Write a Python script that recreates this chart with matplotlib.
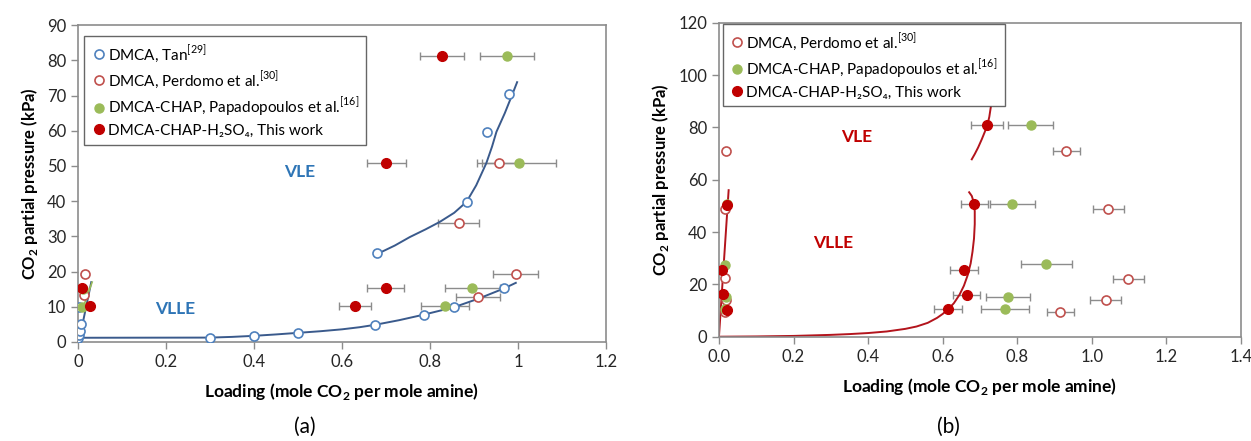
import matplotlib
matplotlib.use('Agg')
from matplotlib import pyplot as plt

plt.rcParams['font.family'] = ['Lato', 'DejaVu Sans']
plt.rcParams['mathtext.fontset'] = 'custom'
plt.rcParams['mathtext.rm'] = 'Lato'
plt.rcParams['mathtext.bf'] = 'Lato:bold'

# ---------------- panel (a) data ----------------
tan_x = [0.0, 0.002, 0.004, 0.006, 0.003, 0.30, 0.40, 0.50, 0.676, 0.787, 0.855, 0.968, 0.68, 0.883, 0.930, 0.980]
tan_y = [1.0, 2.0, 3.2, 5.0, 10.0, 1.25, 1.8, 2.6, 4.9, 7.8, 9.9, 15.2, 25.3, 39.8, 59.7, 70.3]

perd_a_x = [0.957, 0.865, 0.995, 0.909, 0.015, 0.013]
perd_a_y = [50.8, 33.9, 19.2, 12.8, 19.4, 13.3]
perd_a_err = [0.05, 0.046, 0.051, 0.051, 0.004, 0.004]

pap_a_x = [0.975, 1.002, 0.896, 0.834, 0.012, 0.008]
pap_a_y = [81.2, 50.8, 15.2, 10.1, 15.0, 10.0]
pap_a_err = [0.062, 0.084, 0.062, 0.054, 0.0, 0.0]

work_a_x = [0.827, 0.701, 0.699, 0.629, 0.010, 0.027]
work_a_y = [81.2, 50.8, 15.2, 10.1, 15.2, 10.1]
work_a_err = [0.05, 0.045, 0.042, 0.036, 0.0, 0.0]

# fitted curves
vle_a_x = [0.68, 0.72, 0.754, 0.79, 0.822, 0.855, 0.883, 0.905, 0.928, 0.941, 0.951, 0.97, 0.987, 0.998]
vle_a_y = [25.0, 27.4, 29.8, 32.0, 34.1, 36.7, 39.8, 44.5, 50.8, 55.5, 59.7, 65.0, 70.3, 73.8]
vlle_a_x = [0.0, 0.3, 0.35, 0.4, 0.45, 0.5, 0.55, 0.6, 0.64, 0.676, 0.73, 0.787, 0.855, 0.91, 0.968, 0.995]
vlle_a_y = [1.2, 1.25, 1.45, 1.75, 2.15, 2.6, 3.05, 3.6, 4.2, 4.9, 6.2, 7.8, 9.9, 12.3, 15.2, 16.8]
left_a_x = [0.0, 0.005, 0.015, 0.025, 0.03]
left_a_y = [0.0, 2.0, 8.0, 14.0, 17.0]
left_a_gx = [0.012, 0.022, 0.032]
left_a_gy = [10.0, 13.5, 17.0]

# ---------------- panel (b) data ----------------
perd_b_x = [0.932, 1.044, 1.098, 1.037, 0.915, 0.020, 0.017, 0.017, 0.018, 0.016]
perd_b_y = [71.0, 48.7, 21.9, 14.0, 9.6, 70.8, 48.7, 22.3, 14.0, 9.6]
perd_b_err = [0.037, 0.041, 0.041, 0.041, 0.036, 0.004, 0.004, 0.004, 0.004, 0.004]

pap_b_x = [0.836, 0.787, 0.878, 0.776, 0.767, 0.022, 0.017, 0.020, 0.017]
pap_b_y = [81.0, 50.6, 27.7, 15.3, 10.5, 50.6, 27.4, 15.3, 10.5]
pap_b_err = [0.060, 0.061, 0.068, 0.059, 0.065, 0.0, 0.0, 0.0, 0.0]

work_b_x = [0.720, 0.685, 0.658, 0.665, 0.615, 0.022, 0.008, 0.011, 0.022]
work_b_y = [81.0, 50.6, 25.5, 16.1, 10.5, 50.4, 25.5, 16.3, 10.2]
work_b_err = [0.043, 0.037, 0.038, 0.036, 0.038, 0.0, 0.0, 0.0, 0.0]

vle_b_x = [0.678, 0.686, 0.695, 0.705, 0.713, 0.720, 0.725, 0.729]
vle_b_y = [67.8, 69.8, 72.3, 75.5, 78.3, 81.0, 84.0, 87.7]
vlle_b_x = [0.0, 0.1, 0.2, 0.3, 0.35, 0.4, 0.45, 0.5, 0.53, 0.56, 0.585, 0.6, 0.615, 0.63, 0.645, 0.657,
            0.667, 0.675, 0.68, 0.684, 0.686, 0.686, 0.683, 0.678, 0.671]
vlle_b_y = [0.0, 0.1, 0.3, 0.7, 1.0, 1.4, 2.0, 3.0, 3.9, 5.3, 7.2, 8.7, 10.5, 12.8, 16.0, 19.5,
            23.5, 28.0, 32.5, 37.5, 43.0, 48.0, 51.5, 53.8, 55.2]
left_b_x = [0.0, 0.026]
left_b_y = [0.0, 56.0]

c_blue = '#4f81bd'
c_pink = '#c0504d'
c_green = '#9bbb59'
c_red = '#c00000'
c_err = '#8c8c8c'
c_bline = '#3a5a8c'
c_rline = '#b3141c'

fig = plt.figure(figsize=(12.51, 4.41), dpi=100)
ax1 = fig.add_axes([0.0624, 0.2245, 0.4220, 0.7185])
ax2 = fig.add_axes([0.5747, 0.2365, 0.4173, 0.7120])

ms = 6.5

def style(ax):
    for s in ax.spines.values():
        s.set_color('#8c8c8c')
        s.set_linewidth(1.2)
    ax.tick_params(direction='out', color='#8c8c8c', length=5, width=1, labelsize=12, labelcolor='#262626')
    ax.set_xlabel('Loading (mole CO$_\\mathbf{2}$ per mole amine)', fontweight='bold', fontsize=12.5, labelpad=8)
    ax.set_ylabel('CO$_\\mathbf{2}$ partial pressure (kPa)', fontweight='bold', fontsize=12, labelpad=5)

# ---- (a)
ax1.plot(vlle_a_x, vlle_a_y, color=c_bline, lw=1.4, zorder=2)
ax1.plot(vle_a_x, vle_a_y, color=c_bline, lw=1.4, zorder=2)
ax1.plot(left_a_x, left_a_y, color=c_bline, lw=1.4, zorder=2)
ax1.plot(left_a_gx, left_a_gy, color=c_green, lw=1.2, zorder=2)
ax1.errorbar(perd_a_x, perd_a_y, xerr=perd_a_err, fmt='none', ecolor=c_err, elinewidth=1, capsize=3, zorder=1)
ax1.errorbar(pap_a_x, pap_a_y, xerr=pap_a_err, fmt='none', ecolor=c_err, elinewidth=1, capsize=3, zorder=1)
ax1.errorbar(work_a_x, work_a_y, xerr=work_a_err, fmt='none', ecolor=c_err, elinewidth=1, capsize=3, zorder=1)
ax1.plot(tan_x, tan_y, 'o', ms=ms, mfc='white', mec=c_blue, mew=1.2, ls='none', zorder=3, label='DMCA, Tan$^{[29]}$')
ax1.plot(perd_a_x, perd_a_y, 'o', ms=ms, mfc='white', mec=c_pink, mew=1.2, ls='none', zorder=3, label='DMCA, Perdomo et al.$^{[30]}$')
ax1.plot(pap_a_x, pap_a_y, 'o', ms=ms, color=c_green, ls='none', zorder=4, label='DMCA-CHAP, Papadopoulos et al.$^{[16]}$')
ax1.plot(work_a_x, work_a_y, 'o', ms=ms + 0.5, color=c_red, ls='none', zorder=5, label='DMCA-CHAP-H₂SO₄, This work')
ax1.set_xlim(0, 1.2)
ax1.set_ylim(0, 90)
ax1.set_xticks([0, 0.2, 0.4, 0.6, 0.8, 1.0, 1.2])
ax1.set_xticklabels(['0', '0.2', '0.4', '0.6', '0.8', '1', '1.2'])
ax1.set_yticks(range(0, 91, 10))
ax1.text(0.504, 48.2, 'VLE', color='#2e75b6', fontweight='bold', fontsize=12.5, ha='center', va='center')
ax1.text(0.22, 9.5, 'VLLE', color='#2e75b6', fontweight='bold', fontsize=12.5, ha='center', va='center')
style(ax1)
leg = ax1.legend(loc='upper left', bbox_to_anchor=(0.012, 0.965), fontsize=11, frameon=True, fancybox=False,
                 handletextpad=0.1, handlelength=1.0, labelspacing=0.35, borderpad=0.45, borderaxespad=0)
leg.get_frame().set_edgecolor('#404040')
leg.get_frame().set_linewidth(1)

# ---- (b)
ax2.plot(vlle_b_x, vlle_b_y, color=c_rline, lw=1.4, zorder=2)
ax2.plot(vle_b_x, vle_b_y, color=c_rline, lw=1.4, zorder=2)
ax2.plot(left_b_x, left_b_y, color=c_rline, lw=1.4, zorder=2)
ax2.errorbar(perd_b_x, perd_b_y, xerr=perd_b_err, fmt='none', ecolor=c_err, elinewidth=1, capsize=3, zorder=1)
ax2.errorbar(pap_b_x, pap_b_y, xerr=pap_b_err, fmt='none', ecolor=c_err, elinewidth=1, capsize=3, zorder=1)
ax2.errorbar(work_b_x, work_b_y, xerr=work_b_err, fmt='none', ecolor=c_err, elinewidth=1, capsize=3, zorder=1)
ax2.plot(perd_b_x, perd_b_y, 'o', ms=ms, mfc='white', mec=c_pink, mew=1.2, ls='none', zorder=3, label='DMCA, Perdomo et al.$^{[30]}$')
ax2.plot(pap_b_x, pap_b_y, 'o', ms=ms, color=c_green, ls='none', zorder=4, label='DMCA-CHAP, Papadopoulos et al.$^{[16]}$')
ax2.plot(work_b_x, work_b_y, 'o', ms=ms + 0.5, color=c_red, ls='none', zorder=5, label='DMCA-CHAP-H₂SO₄, This work')
ax2.set_xlim(0, 1.4)
ax2.set_ylim(0, 120)
ax2.set_xticks([0, 0.2, 0.4, 0.6, 0.8, 1.0, 1.2, 1.4])
ax2.set_xticklabels(['0.0', '0.2', '0.4', '0.6', '0.8', '1.0', '1.2', '1.4'])
ax2.set_yticks(range(0, 121, 20))
ax2.text(0.368, 76.5, 'VLE', color=c_red, fontweight='bold', fontsize=12.5, ha='center', va='center')
ax2.text(0.305, 35.7, 'VLLE', color=c_red, fontweight='bold', fontsize=12.5, ha='center', va='center')
style(ax2)
leg2 = ax2.legend(loc='upper left', bbox_to_anchor=(0.007, 0.995), fontsize=11, frameon=True, fancybox=False,
                  handletextpad=0.1, handlelength=1.0, labelspacing=0.35, borderpad=0.45, borderaxespad=0)
leg2.get_frame().set_edgecolor('#404040')
leg2.get_frame().set_linewidth(1)

fig.text(305 / 1251, 1 - 427 / 441, '(a)', fontsize=15, ha='center', va='center')
fig.text(948 / 1251, 1 - 427 / 441, '(b)', fontsize=15, ha='center', va='center')

fig.savefig('out.png', dpi=100)
